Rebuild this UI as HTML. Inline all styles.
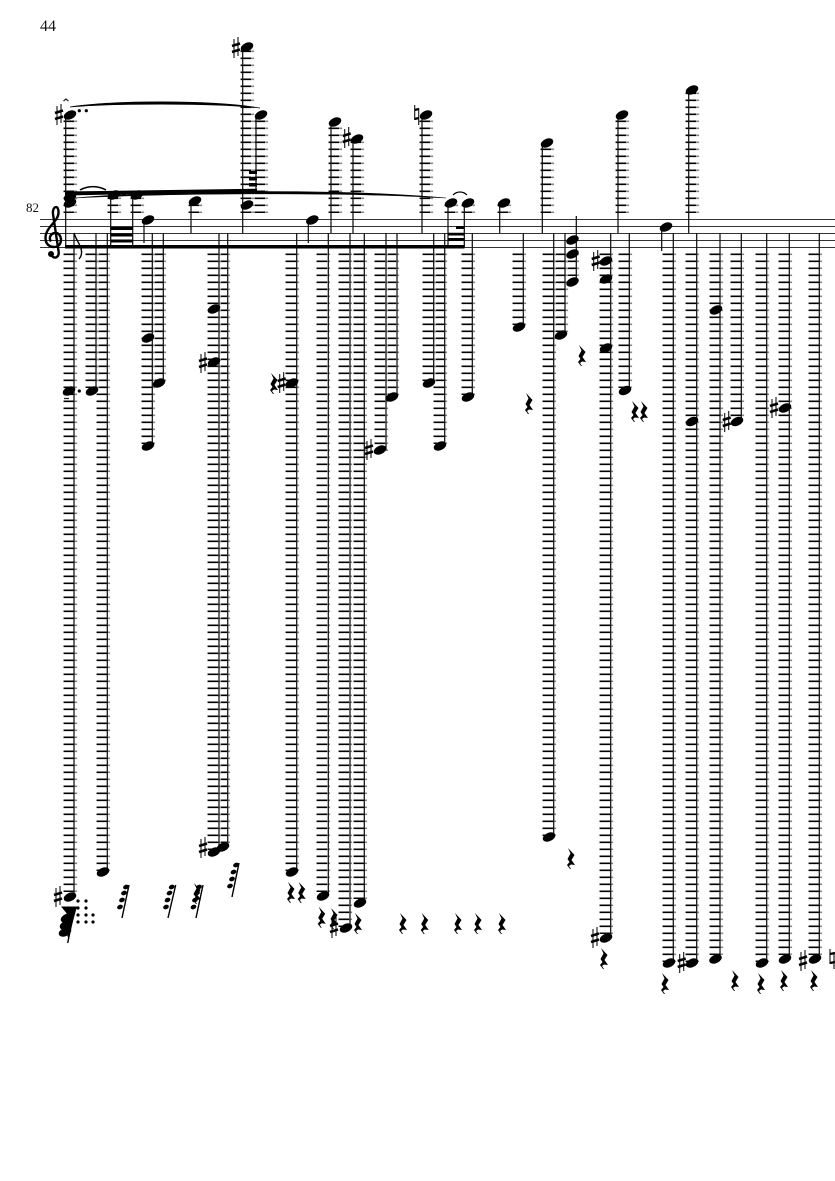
<!DOCTYPE html>
<html><head><meta charset="utf-8"><style>
html,body{margin:0;padding:0;background:#fff;width:835px;height:1181px;overflow:hidden}
svg{display:block}
ellipse{rx:6.6px;ry:4.2px;transform-box:fill-box;transform-origin:center;transform:rotate(-25deg);fill:#000}
.sm ellipse{rx:3px;ry:2.2px}
text{font-family:"Liberation Serif",serif;fill:#111}
</style></head><body>
<svg xmlns="http://www.w3.org/2000/svg" width="835" height="1181" viewBox="0 0 835 1181">
<rect width="835" height="1181" fill="#fff"/>
<text x="40" y="31" font-size="16">44</text>
<text x="26" y="212" font-size="13">82</text>
<!-- staff -->
<path d="M40 219.5H835M40 226.5H835M40 233.5H835M40 240.5H835M40 247.5H835" stroke="#333" stroke-width="1" fill="none"/>
<!-- clef -->
<path d="M51 254C53 260 60 258 58.500 251L53 214C52 206 59 204 58.500 213C58 222 45.500 227 45.500 238C45.500 246 52 248 57 246.500C63 244 62 233 55.500 233C50.500 233 48.500 238 51 241.500" fill="none" stroke="#000" stroke-width="2.400"/>
<circle cx="51" cy="254" r="3"/>
<!-- ledger lines: dark left part -->
<path transform="translate(-1.2 0)" stroke="#000" stroke-width="10.5" stroke-dasharray="1.6 5.4" fill="none" d="M70 120.500V213M70 190.500V213M114 197.500V213M137 197.500V213M195 204.500V213M247 50.500V213M261 120.500V213M335 127.500V213M357 141.500V213M426 120.500V213M451 204.500V213M468 204.500V213M504 204.500V213M547 148.500V213M622 120.500V213M692 92.500V213M70 253.500V892M92 253.500V388M103 253.500V871M148 253.500V444M159 253.500V381M214 253.500V850M223 253.500V843M292 253.500V871M323 253.500V892M345 253.500V927M360 253.500V899M381 253.500V451M392 253.500V395M429 253.500V381M440 253.500V444M468 253.500V395M519 253.500V325M549 253.500V836M561 253.500V332M572 253.500V276M606 253.500V934M625 253.500V388M669 253.500V962M692 253.500V962M716 253.500V955M737 253.500V419M762 253.500V962M785 253.500V955M815 253.500V955"/>
<!-- ledger lines: grey right part -->
<path transform="translate(5.600 0)" stroke="#888" stroke-width="3" stroke-dasharray="1.6 5.4" fill="none" d="M70 120.500V213M70 190.500V213M114 197.500V213M137 197.500V213M195 204.500V213M247 50.500V213M261 120.500V213M335 127.500V213M357 141.500V213M426 120.500V213M451 204.500V213M468 204.500V213M504 204.500V213M547 148.500V213M622 120.500V213M692 92.500V213M70 253.500V892M92 253.500V388M103 253.500V871M148 253.500V444M159 253.500V381M214 253.500V850M223 253.500V843M292 253.500V871M323 253.500V892M345 253.500V927M360 253.500V899M381 253.500V451M392 253.500V395M429 253.500V381M440 253.500V444M468 253.500V395M519 253.500V325M549 253.500V836M561 253.500V332M572 253.500V276M606 253.500V934M625 253.500V388M669 253.500V962M692 253.500V962M716 253.500V955M737 253.500V419M762 253.500V962M785 253.500V955M815 253.500V955"/>
<!-- stems -->
<path fill="none" stroke="#111" stroke-width="1.250" d="M65.700 115V247M110.700 195V247M132.700 195V247M144 220V243M191 201V233M242.700 47V233M256 115V191M308.300 220V243M331 122V233M353 139V233M422 115V233M448 203V247M464.300 203V247M499.700 203V233M542.300 143V233M618 115V233M661.700 227V251M688.700 90V233M576.300 216V282M74 233V897M96 233V391M107.300 233V872M152.300 233V446M163.300 233V383M219 233V852M227.700 233V847M296.700 233V872M328.300 233V896M350 233V928M364.300 233V903M386 233V450M397 233V397M433.700 233V383M444.700 233V446M472.300 233V397M523.300 233V327M553.700 233V837M565 233V335M610.700 233V939M629.300 233V390M673.300 233V963M696.700 233V963M720 233V959M741.300 233V421M766.700 233V963M789.300 233V959M819.300 233V959"/>
<!-- beams -->
<path d="M65 245H464.500V248.500H65ZM65 191.500L257 188.700V191.800L65 195.500ZM110.500 227H133V230H110.500ZM110.500 233.500H133V236.500H110.500ZM110.500 239.500H133V242.500H110.500ZM249 171H257V174H249ZM249 177H257V180.500H249ZM249 183H257V186.500H249ZM448 232.700H464.500V235.500H448ZM448 238H464.500V241H448ZM456 226H464.500V229H456Z"/>
<path d="M74 233C76 240 81 245 81.500 251C82 255 80 258 79 259" fill="none" stroke="#000" stroke-width="1.400"/>
<!-- slurs -->
<path d="M70 107C110 100.500 210 99.500 260 108C210 102.500 110 103.500 70 107Z" fill="#000" stroke="#000" stroke-width=".7"/>
<path d="M75 198C160 190.500 340 188.500 446 198C340 191.500 160 193.500 75 198Z" fill="#000" stroke="#000" stroke-width=".6"/>
<path d="M80 190C88 185.500 98 185.500 106 190" fill="none" stroke="#000" stroke-width="1.500"/>
<path d="M453 195C457 191 463 191 467 195" fill="none" stroke="#000" stroke-width="1.200"/>
<path d="M63.500 101L66 99 68.500 101M64 398.500H69" fill="none" stroke="#222" stroke-width="1.200"/>
<!-- heads -->
<g>
<ellipse cx="70" cy="115"/><ellipse cx="70" cy="197"/><ellipse cx="70" cy="203"/><ellipse cx="114" cy="195"/><ellipse cx="137" cy="195"/><ellipse cx="148" cy="220"/><ellipse cx="195" cy="201"/><ellipse cx="247" cy="47"/><ellipse cx="247" cy="205"/><ellipse cx="261" cy="115"/><ellipse cx="312.300" cy="220"/><ellipse cx="335" cy="122"/><ellipse cx="357" cy="139"/><ellipse cx="426" cy="115"/><ellipse cx="451" cy="203"/><ellipse cx="468" cy="203"/><ellipse cx="504" cy="203"/><ellipse cx="547" cy="143"/><ellipse cx="622" cy="115"/><ellipse cx="666" cy="227"/><ellipse cx="692" cy="90"/>
<ellipse cx="70" cy="897"/><ellipse cx="69" cy="391"/><ellipse cx="92" cy="391"/><ellipse cx="103" cy="872"/><ellipse cx="148" cy="338"/><ellipse cx="148" cy="446"/><ellipse cx="159" cy="383"/><ellipse cx="214" cy="309"/><ellipse cx="214" cy="362"/><ellipse cx="214" cy="852"/><ellipse cx="223" cy="847"/><ellipse cx="292" cy="383"/><ellipse cx="292" cy="872"/><ellipse cx="323" cy="896"/><ellipse cx="346" cy="928"/><ellipse cx="360" cy="903"/><ellipse cx="380" cy="450"/><ellipse cx="392" cy="397"/><ellipse cx="429" cy="383"/><ellipse cx="440" cy="446"/><ellipse cx="468" cy="397"/><ellipse cx="519" cy="327"/><ellipse cx="549" cy="837"/><ellipse cx="561" cy="335"/><ellipse cx="572.500" cy="240"/><ellipse cx="572.500" cy="254"/><ellipse cx="572.500" cy="282"/><ellipse cx="606" cy="261"/><ellipse cx="606" cy="279"/><ellipse cx="606" cy="348"/><ellipse cx="606" cy="938"/><ellipse cx="625" cy="390.500"/><ellipse cx="669" cy="963"/><ellipse cx="692" cy="421.500"/><ellipse cx="692" cy="963"/><ellipse cx="716" cy="310"/><ellipse cx="715.500" cy="959"/><ellipse cx="737" cy="421.500"/><ellipse cx="762" cy="963"/><ellipse cx="785" cy="408"/><ellipse cx="785" cy="959"/><ellipse cx="815" cy="959"/>
</g>
<!-- dots -->
<g fill="#000"><circle cx="79.300" cy="110.700" r="1.600"/><circle cx="86.300" cy="110.700" r="1.600"/><circle cx="124" cy="194" r="1.600"/><circle cx="79.300" cy="391" r="1.600"/><circle cx="78" cy="901" r="1.600"/><circle cx="86" cy="901" r="1.600"/><circle cx="78" cy="908" r="1.600"/><circle cx="86" cy="908" r="1.600"/><circle cx="78" cy="915" r="1.600"/><circle cx="86" cy="915" r="1.600"/><circle cx="93" cy="915" r="1.600"/><circle cx="78" cy="922" r="1.600"/><circle cx="86" cy="922" r="1.600"/><circle cx="93" cy="922" r="1.600"/></g>
<!-- sharps verticals -->
<path fill="none" stroke="#111" stroke-width="1.100" d="M57 106v19M61 104v19M234 39v19M238 37v19M344.700 129v19M348.700 127v19M201 839v19M205 837v19M56 888v19M60 886v19M201 354v19M205 352v19M279.700 374v19M283.700 372v19M332 919v19M336 917v19M367 441v19M371 439v19M593.700 252v19M597.700 250v19M724.700 413v19M728.700 411v19M772 399v19M776 397v19M593 929v19M597 927v19M679.700 954v19M683.700 952v19M801 952v19M805 950v19"/>
<path fill="none" stroke="#000" stroke-width="2.600" d="M55 113l8-2.500M55 119l8-2.500M232 46l8-2.500M232 52l8-2.500M342.700 136l8-2.500M342.700 142l8-2.500M199 846l8-2.500M199 852l8-2.500M54 895l8-2.500M54 901l8-2.500M199 361l8-2.500M199 367l8-2.500M277.700 381l8-2.500M277.700 387l8-2.500M330 926l8-2.500M330 932l8-2.500M365 448l8-2.500M365 454l8-2.500M591.700 259l8-2.500M591.700 265l8-2.500M722.700 420l8-2.500M722.700 426l8-2.500M770 406l8-2.500M770 412l8-2.500M591 936l8-2.500M591 942l8-2.500M677.700 961l8-2.500M677.700 967l8-2.500M799 959l8-2.500M799 965l8-2.500"/>
<!-- naturals -->
<path fill="none" stroke="#111" stroke-width="1.100" d="M414.700 105v15M418.700 108v17M830 949v15M834 952v17"/>
<path fill="none" stroke="#000" stroke-width="2.400" d="M414.700 110l4-1M414.700 119l4-1M830 954l5-1M830 963l5-1"/>
<!-- rests -->
<path fill="#000" d="M291 892m-3-10l6.500 7-3 5 3.500 5-4-.5-2 1.500 2 3-1 0-3-4 2.500-3-2-3 3-5.500zM301.700 892m-3-10l6.500 7-3 5 3.500 5-4-.5-2 1.500 2 3-1 0-3-4 2.500-3-2-3 3-5.500zM321.700 916.700m-3-10l6.500 7-3 5 3.500 5-4-.5-2 1.500 2 3-1 0-3-4 2.500-3-2-3 3-5.500zM334 918m-3-10l6.500 7-3 5 3.500 5-4-.5-2 1.500 2 3-1 0-3-4 2.500-3-2-3 3-5.500zM358 923m-3-10l6.500 7-3 5 3.500 5-4-.5-2 1.500 2 3-1 0-3-4 2.500-3-2-3 3-5.500zM403 923m-3-10l6.500 7-3 5 3.500 5-4-.5-2 1.500 2 3-1 0-3-4 2.500-3-2-3 3-5.500zM424.700 923m-3-10l6.500 7-3 5 3.500 5-4-.5-2 1.500 2 3-1 0-3-4 2.500-3-2-3 3-5.500zM458 923m-3-10l6.500 7-3 5 3.500 5-4-.5-2 1.500 2 3-1 0-3-4 2.500-3-2-3 3-5.500zM478 923m-3-10l6.500 7-3 5 3.500 5-4-.5-2 1.500 2 3-1 0-3-4 2.500-3-2-3 3-5.500zM502 923m-3-10l6.500 7-3 5 3.500 5-4-.5-2 1.500 2 3-1 0-3-4 2.500-3-2-3 3-5.500zM604 958m-3-10l6.500 7-3 5 3.500 5-4-.5-2 1.500 2 3-1 0-3-4 2.500-3-2-3 3-5.500zM665 983m-3-10l6.500 7-3 5 3.500 5-4-.5-2 1.500 2 3-1 0-3-4 2.500-3-2-3 3-5.500zM735 980m-3-10l6.500 7-3 5 3.500 5-4-.5-2 1.500 2 3-1 0-3-4 2.500-3-2-3 3-5.500zM761 983m-3-10l6.500 7-3 5 3.500 5-4-.5-2 1.500 2 3-1 0-3-4 2.500-3-2-3 3-5.500zM784 980m-3-10l6.500 7-3 5 3.500 5-4-.5-2 1.500 2 3-1 0-3-4 2.500-3-2-3 3-5.500zM814 980m-3-10l6.500 7-3 5 3.500 5-4-.5-2 1.500 2 3-1 0-3-4 2.500-3-2-3 3-5.500zM529 403m-3-10l6.500 7-3 5 3.500 5-4-.5-2 1.500 2 3-1 0-3-4 2.500-3-2-3 3-5.500zM582 355m-3-10l6.500 7-3 5 3.500 5-4-.5-2 1.500 2 3-1 0-3-4 2.500-3-2-3 3-5.500zM635 411m-3-10l6.500 7-3 5 3.500 5-4-.5-2 1.500 2 3-1 0-3-4 2.500-3-2-3 3-5.500zM644 411m-3-10l6.500 7-3 5 3.500 5-4-.5-2 1.500 2 3-1 0-3-4 2.500-3-2-3 3-5.500zM274 383m-3-10l6.500 7-3 5 3.500 5-4-.5-2 1.500 2 3-1 0-3-4 2.500-3-2-3 3-5.500zM197 893m-3-10l6.500 7-3 5 3.500 5-4-.5-2 1.500 2 3-1 0-3-4 2.500-3-2-3 3-5.500zM571 858m-3-10l6.500 7-3 5 3.500 5-4-.5-2 1.500 2 3-1 0-3-4 2.500-3-2-3 3-5.500z"/>
<!-- grace groups -->
<path fill="none" stroke="#000" stroke-width="1.400" d="M129 885L122 918M175.700 885L168 918M203 885L196 918M239 863L232 897M75 907L67.700 943"/>
<g class="sm">
<ellipse cx="126" cy="887"/><ellipse cx="124" cy="893"/><ellipse cx="122" cy="900"/><ellipse cx="120" cy="907"/>
<ellipse cx="171.700" cy="887"/><ellipse cx="169.500" cy="893"/><ellipse cx="167.500" cy="900"/><ellipse cx="166" cy="907"/>
<ellipse cx="199" cy="887"/><ellipse cx="197" cy="893"/><ellipse cx="195" cy="900"/><ellipse cx="193.500" cy="907"/>
<ellipse cx="236" cy="865"/><ellipse cx="233.500" cy="872"/><ellipse cx="232" cy="879"/><ellipse cx="230" cy="886"/>
</g>
<path d="M61 906.500H77L72 925 68 938 66 930 68 915Z"/>
<g><ellipse cx="67" cy="918"/><ellipse cx="66" cy="925"/><ellipse cx="65" cy="932"/></g>
</svg>
</body></html>
